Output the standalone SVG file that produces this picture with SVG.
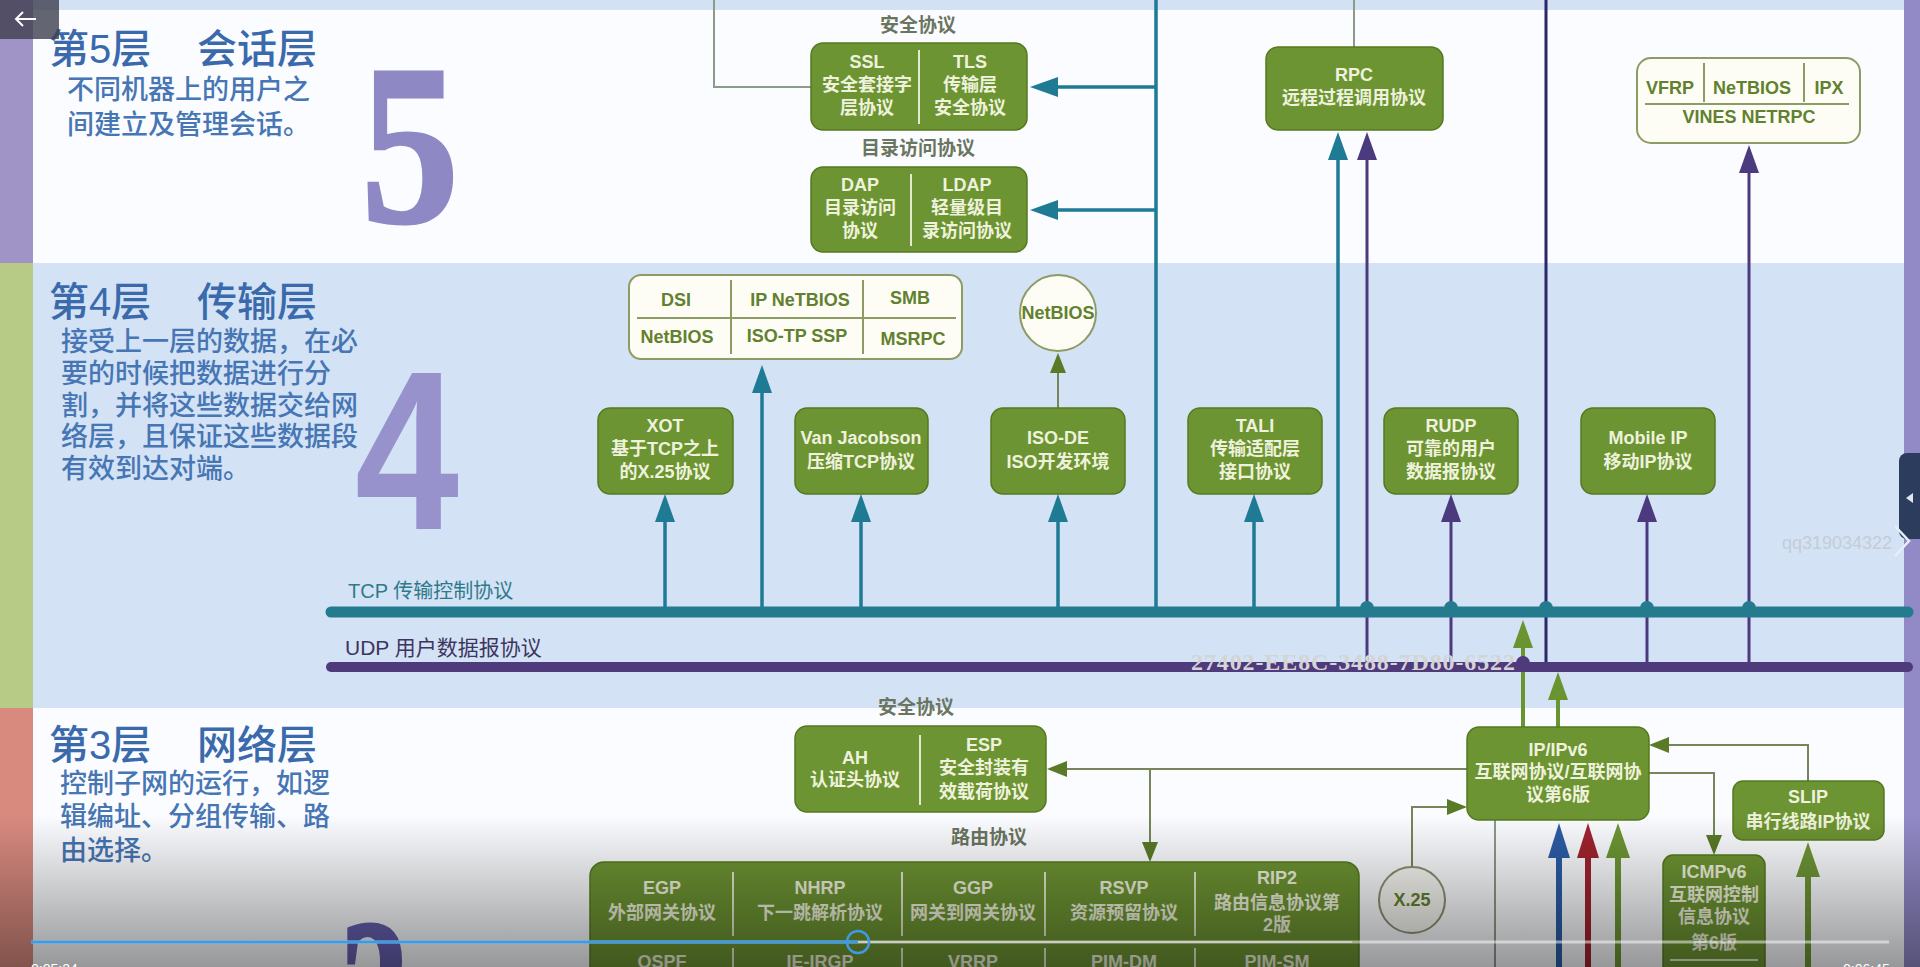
<svg xmlns="http://www.w3.org/2000/svg" width="1920" height="967" viewBox="0 0 1920 967">
<defs>
<style>
.t{font-family:"Liberation Sans","Noto Sans CJK SC",sans-serif}
.title{font-family:"Liberation Sans","Noto Sans CJK SC",sans-serif;font-size:40px;font-weight:500;fill:#3a6aab}
.desc{font-family:"Liberation Sans","Noto Sans CJK SC",sans-serif;font-size:27px;font-weight:500;fill:#4676b4}
.node{fill:#6d9432;stroke:#55791f;stroke-width:1.5}
.nt{font-family:"Liberation Sans","Noto Sans CJK SC",sans-serif;font-size:18px;font-weight:bold;fill:#eef2dc;text-anchor:middle}
.wbox{fill:#fdfdf6;stroke:#8d9c64;stroke-width:2}
.wt{font-family:"Liberation Sans","Noto Sans CJK SC",sans-serif;font-size:18px;font-weight:bold;fill:#62812e;text-anchor:middle}
.lbl{font-family:"Liberation Sans","Noto Sans CJK SC",sans-serif;font-size:19px;font-weight:bold;fill:#6a7560;text-anchor:middle}
.dl{stroke:#e2e9cc;stroke-width:2}
.dw{stroke:#8d9c64;stroke-width:2}
.teal{stroke:#1f7a94;stroke-width:3.5;fill:none}
.purple{stroke:#4b3b7e;stroke-width:3;fill:none}
.navy{stroke:#2d2766;stroke-width:3;fill:none}
.gray{stroke:#8c9a8a;stroke-width:2;fill:none}
.olive{stroke:#76865a;stroke-width:2;fill:none}
.grn{stroke:#6a9430;stroke-width:4;fill:none}
.big{stroke-width:6;fill:none}
.bigserif{font-family:"Liberation Serif",serif;font-weight:bold;font-size:228px;text-anchor:middle;stroke-width:3}
.bigsans{font-family:"Liberation Sans",sans-serif;font-weight:bold;font-size:226px;text-anchor:middle}
</style>
<marker id="mTeal" markerUnits="userSpaceOnUse" markerWidth="28" markerHeight="20" refX="0" refY="10" orient="auto"><path d="M0,0 L28,10 L0,20 z" fill="#1f7a94"/></marker>
<marker id="mPurple" markerUnits="userSpaceOnUse" markerWidth="28" markerHeight="20" refX="0" refY="10" orient="auto"><path d="M0,0 L28,10 L0,20 z" fill="#4b3b7e"/></marker>
<marker id="mOlive" markerUnits="userSpaceOnUse" markerWidth="20" markerHeight="16" refX="0" refY="8" orient="auto"><path d="M0,0 L20,8 L0,16 z" fill="#5a7a26"/></marker>
<marker id="mGreen" markerUnits="userSpaceOnUse" markerWidth="28" markerHeight="20" refX="0" refY="10" orient="auto"><path d="M0,0 L28,10 L0,20 z" fill="#6a9430"/></marker>
<marker id="mBlue" markerUnits="userSpaceOnUse" markerWidth="35" markerHeight="22" refX="0" refY="11" orient="auto"><path d="M0,0 L35,11 L0,22 z" fill="#2b5da6"/></marker>
<marker id="mRed" markerUnits="userSpaceOnUse" markerWidth="35" markerHeight="22" refX="0" refY="11" orient="auto"><path d="M0,0 L35,11 L0,22 z" fill="#a0232f"/></marker>
<marker id="mGreenB" markerUnits="userSpaceOnUse" markerWidth="35" markerHeight="24" refX="0" refY="12" orient="auto"><path d="M0,0 L35,12 L0,24 z" fill="#6c9634"/></marker>
<linearGradient id="shade" x1="0" y1="0" x2="0" y2="1">
<stop offset="0" stop-color="#000" stop-opacity="0"/>
<stop offset="1" stop-color="#000" stop-opacity="0.4"/>
</linearGradient>
</defs>

<g id="background">
<rect x="0" y="0" width="1920" height="967" fill="#fbfcff"/>
<rect x="0" y="0" width="1920" height="10" fill="#d2e1f4"/>
<rect x="0" y="263" width="1920" height="445" fill="#d3e2f5"/>
<rect x="0" y="0" width="33" height="263" fill="#a093c6"/>
<rect x="0" y="263" width="33" height="445" fill="#b8cb86"/>
<rect x="0" y="708" width="33" height="259" fill="#d88a7f"/>
<rect x="1904" y="0" width="16" height="967" fill="#918ac7"/>
</g>

<g id="layer5-title">
<text class="title" y="63"><tspan x="49">第5层</tspan><tspan x="197">会话层</tspan></text>
<text class="desc" x="67" y="99">不同机器上的用户之</text>
<text class="desc" x="67" y="134">间建立及管理会话。</text>
<text class="bigserif" x="410" y="222" fill="#8e88c4" stroke="#8e88c4" textLength="98" lengthAdjust="spacingAndGlyphs">5</text>
</g>
<g id="layer4-title">
<text class="title" y="316"><tspan x="49">第4层</tspan><tspan x="197">传输层</tspan></text>
<text class="desc" x="61" y="351">接受上一层的数据，在必</text>
<text class="desc" x="61" y="383">要的时候把数据进行分</text>
<text class="desc" x="61" y="415">割，并将这些数据交给网</text>
<text class="desc" x="61" y="446">络层，且保证这些数据段</text>
<text class="desc" x="61" y="478">有效到达对端。</text>
<text class="bigsans" x="407" y="529" fill="#9791cc" textLength="104" lengthAdjust="spacingAndGlyphs">4</text>
</g>
<g id="layer3-title">
<text class="title" y="759"><tspan x="49">第3层</tspan><tspan x="197">网络层</tspan></text>
<text class="desc" x="60" y="793">控制子网的运行，如逻</text>
<text class="desc" x="60" y="826">辑编址、分组传输、路</text>
<text class="desc" x="60" y="860">由选择。</text>
<text class="bigserif" x="375" y="1076" fill="#6660b0" stroke="#6660b0" textLength="70" lengthAdjust="spacingAndGlyphs">3</text>
</g>

<g id="connectors">
<path class="gray" d="M714,0 V87 H811"/>
<path class="gray" d="M1354,0 V47"/>
<path class="teal" d="M1156,0 V612"/>
<path class="teal" d="M1156,87 H1058" marker-end="url(#mTeal)"/>
<path class="teal" d="M1156,210 H1058" marker-end="url(#mTeal)"/>
<path class="teal" d="M762,612 V393" marker-end="url(#mTeal)"/>
<path class="teal" d="M665,612 V522" marker-end="url(#mTeal)"/>
<path class="teal" d="M861,612 V522" marker-end="url(#mTeal)"/>
<path class="teal" d="M1058,612 V522" marker-end="url(#mTeal)"/>
<path class="teal" d="M1254,612 V522" marker-end="url(#mTeal)"/>
<path class="teal" d="M1338,612 V160" marker-end="url(#mTeal)"/>
<path class="purple" d="M1367,667 V160" marker-end="url(#mPurple)"/>
<path class="purple" d="M1451,667 V522" marker-end="url(#mPurple)"/>
<path class="purple" d="M1647,667 V522" marker-end="url(#mPurple)"/>
<path class="purple" d="M1749,667 V173" marker-end="url(#mPurple)"/>
<path class="navy" d="M1546,0 V667"/>
<path class="olive" d="M1058,408 V373" marker-end="url(#mOlive)"/>
<path class="grn" d="M1523,727 V648" marker-end="url(#mGreen)"/>
<path class="grn" d="M1558,727 V700" marker-end="url(#mGreen)"/>
<path d="M331,612 H1908" stroke="#247b8e" stroke-width="11" stroke-linecap="round"/>
<path d="M331,667 H1908" stroke="#4f3a7c" stroke-width="10" stroke-linecap="round"/>
<g fill="#247b8e">
<circle cx="1367" cy="608" r="7"/><circle cx="1451" cy="608" r="7"/><circle cx="1546" cy="608" r="7"/><circle cx="1647" cy="608" r="7"/><circle cx="1749" cy="608" r="7"/>
</g>
<circle cx="1523" cy="663" r="7" fill="#4f3a7c"/>
<path class="olive" d="M1467,769 H1067" marker-end="url(#mOlive)"/>
<path class="olive" d="M1150,769 V842" marker-end="url(#mOlive)"/>
<path class="olive" d="M1412,867 V807 H1447" marker-end="url(#mOlive)"/>
<path class="olive" d="M1808,781 V745 H1669" marker-end="url(#mOlive)"/>
<path class="olive" d="M1649,773 H1714 V835" marker-end="url(#mOlive)"/>
<path class="gray" d="M1495,820 V967"/>
<path class="big" stroke="#2b5da6" d="M1559,967 V858" marker-end="url(#mBlue)"/>
<path class="big" stroke="#a0232f" d="M1588,967 V858" marker-end="url(#mRed)"/>
<path class="big" stroke="#6c9634" d="M1618,967 V858" marker-end="url(#mGreenB)"/>
<path class="big" stroke="#6c9634" d="M1808,967 V877" marker-end="url(#mGreenB)"/>
</g>

<g id="bus-labels">
<text class="t" x="348" y="598" font-size="20" fill="#2f7a8a">TCP 传输控制协议</text>
<text class="t" x="345" y="655" font-size="21" fill="#3d3560">UDP 用户数据报协议</text>
</g>

<g id="label-sec5"><text class="lbl" x="918" y="32">安全协议</text></g>
<g id="ssl-tls">
<rect class="node" x="811" y="43" width="216" height="87" rx="12"/>
<line class="dl" x1="919" y1="50" x2="919" y2="124"/>
<text class="nt" x="867" y="68">SSL</text><text class="nt" x="867" y="91">安全套接字</text><text class="nt" x="867" y="114">层协议</text>
<text class="nt" x="970" y="68">TLS</text><text class="nt" x="970" y="91">传输层</text><text class="nt" x="970" y="114">安全协议</text>
</g>
<g id="label-dir"><text class="lbl" x="918" y="155">目录访问协议</text></g>
<g id="dap-ldap">
<rect class="node" x="811" y="167" width="216" height="85" rx="12"/>
<line class="dl" x1="911" y1="174" x2="911" y2="246"/>
<text class="nt" x="860" y="191">DAP</text><text class="nt" x="860" y="214">目录访问</text><text class="nt" x="860" y="237">协议</text>
<text class="nt" x="967" y="191">LDAP</text><text class="nt" x="967" y="214">轻量级目</text><text class="nt" x="967" y="237">录访问协议</text>
</g>
<g id="rpc">
<rect class="node" x="1266" y="47" width="177" height="83" rx="12"/>
<text class="nt" x="1354" y="81">RPC</text><text class="nt" x="1354" y="104">远程过程调用协议</text>
</g>
<g id="vines">
<rect class="wbox" x="1637" y="58" width="223" height="85" rx="14"/>
<line class="dw" x1="1704" y1="63" x2="1704" y2="102"/>
<line class="dw" x1="1804" y1="63" x2="1804" y2="102"/>
<line class="dw" x1="1645" y1="104" x2="1849" y2="104"/>
<text class="wt" x="1670" y="94">VFRP</text><text class="wt" x="1752" y="94">NeTBIOS</text><text class="wt" x="1829" y="94">IPX</text>
<text class="wt" x="1749" y="123">VINES NETRPC</text>
</g>

<g id="dsi-box">
<rect class="wbox" x="629" y="275" width="333" height="84" rx="12"/>
<line class="dw" x1="637" y1="318" x2="956" y2="318"/>
<line class="dw" x1="731" y1="280" x2="731" y2="354"/>
<line class="dw" x1="863" y1="280" x2="863" y2="354"/>
<text class="wt" x="676" y="306">DSI</text><text class="wt" x="800" y="306">IP NeTBIOS</text><text class="wt" x="910" y="304">SMB</text>
<text class="wt" x="677" y="343">NetBIOS</text><text class="wt" x="797" y="342">ISO-TP SSP</text><text class="wt" x="913" y="345">MSRPC</text>
</g>
<g id="netbios">
<circle cx="1058" cy="313" r="38" fill="#fdfdf6" stroke="#8d9c64" stroke-width="2"/>
<text class="wt" x="1058" y="319">NetBIOS</text>
</g>
<g id="xot">
<rect class="node" x="598" y="408" width="135" height="86" rx="12"/>
<text class="nt" x="665" y="432">XOT</text><text class="nt" x="665" y="455">基于TCP之上</text><text class="nt" x="665" y="478">的X.25协议</text>
</g>
<g id="vanjacobson">
<rect class="node" x="795" y="408" width="133" height="86" rx="12"/>
<text class="nt" x="861" y="444">Van Jacobson</text><text class="nt" x="861" y="468">压缩TCP协议</text>
</g>
<g id="isode">
<rect class="node" x="991" y="408" width="134" height="86" rx="12"/>
<text class="nt" x="1058" y="444">ISO-DE</text><text class="nt" x="1058" y="468">ISO开发环境</text>
</g>
<g id="tali">
<rect class="node" x="1188" y="408" width="134" height="86" rx="12"/>
<text class="nt" x="1255" y="432">TALI</text><text class="nt" x="1255" y="455">传输适配层</text><text class="nt" x="1255" y="478">接口协议</text>
</g>
<g id="rudp">
<rect class="node" x="1384" y="408" width="134" height="86" rx="12"/>
<text class="nt" x="1451" y="432">RUDP</text><text class="nt" x="1451" y="455">可靠的用户</text><text class="nt" x="1451" y="478">数据报协议</text>
</g>
<g id="mobileip">
<rect class="node" x="1581" y="408" width="134" height="86" rx="12"/>
<text class="nt" x="1648" y="444">Mobile IP</text><text class="nt" x="1648" y="468">移动IP协议</text>
</g>

<g id="label-sec3"><text class="lbl" x="916" y="714">安全协议</text></g>
<g id="ah-esp">
<rect class="node" x="795" y="726" width="251" height="86" rx="12"/>
<line class="dl" x1="920" y1="735" x2="920" y2="805"/>
<text class="nt" x="855" y="764">AH</text><text class="nt" x="855" y="786">认证头协议</text>
<text class="nt" x="984" y="751">ESP</text><text class="nt" x="984" y="774">安全封装有</text><text class="nt" x="984" y="798">效载荷协议</text>
</g>
<g id="label-route"><text class="lbl" x="989" y="844">路由协议</text></g>
<g id="routing">
<rect class="node" x="590" y="862" width="769" height="140" rx="14"/>
<g class="dl">
<line x1="733" y1="872" x2="733" y2="936"/><line x1="902" y1="872" x2="902" y2="936"/><line x1="1045" y1="872" x2="1045" y2="936"/><line x1="1195" y1="872" x2="1195" y2="936"/>
<line x1="600" y1="942" x2="1352" y2="942"/>
<line x1="733" y1="948" x2="733" y2="967"/><line x1="902" y1="948" x2="902" y2="967"/><line x1="1045" y1="948" x2="1045" y2="967"/><line x1="1195" y1="948" x2="1195" y2="967"/>
</g>
<text class="nt" x="662" y="894">EGP</text><text class="nt" x="662" y="919">外部网关协议</text>
<text class="nt" x="820" y="894">NHRP</text><text class="nt" x="820" y="919">下一跳解析协议</text>
<text class="nt" x="973" y="894">GGP</text><text class="nt" x="973" y="919">网关到网关协议</text>
<text class="nt" x="1124" y="894">RSVP</text><text class="nt" x="1124" y="919">资源预留协议</text>
<text class="nt" x="1277" y="884">RIP2</text><text class="nt" x="1277" y="909">路由信息协议第</text><text class="nt" x="1277" y="931">2版</text>
<text class="nt" x="662" y="968">OSPF</text><text class="nt" x="820" y="968">IE-IRGP</text><text class="nt" x="973" y="968">VRRP</text><text class="nt" x="1124" y="968">PIM-DM</text><text class="nt" x="1277" y="968">PIM-SM</text>
</g>
<g id="ip">
<rect class="node" x="1467" y="727" width="182" height="93" rx="12"/>
<text class="nt" x="1558" y="756">IP/IPv6</text><text class="nt" x="1558" y="778">互联网协议/互联网协</text><text class="nt" x="1558" y="801">议第6版</text>
</g>
<g id="slip">
<rect class="node" x="1733" y="781" width="151" height="59" rx="10"/>
<text class="nt" x="1808" y="803">SLIP</text><text class="nt" x="1808" y="828">串行线路IP协议</text>
</g>
<g id="icmpv6">
<rect class="node" x="1663" y="855" width="102" height="140" rx="10"/>
<text class="nt" x="1714" y="878">ICMPv6</text><text class="nt" x="1714" y="901">互联网控制</text><text class="nt" x="1714" y="923">信息协议</text><text class="nt" x="1714" y="949">第6版</text>
<line class="dl" x1="1670" y1="960" x2="1758" y2="960"/>
</g>
<g id="x25">
<circle cx="1412" cy="900" r="33" fill="#f6f6f2" stroke="#8a9070" stroke-width="2"/>
<text class="wt" x="1412" y="906">X.25</text>
</g>

<g id="watermarks">
<text x="1191" y="670" font-family="Liberation Serif, serif" font-weight="bold" font-size="24" fill="#d4d4d4" textLength="324">27402-EE8C-3488-7D80-6522</text>
<text class="t" x="1782" y="549" font-size="18" fill="#c4ccd8">qq319034322</text>
</g>

<g id="player">
<rect x="0" y="815" width="1920" height="152" fill="url(#shade)"/>
<rect x="0" y="0" width="59" height="39" fill="#3f3f4f" opacity="0.8"/>
<path d="M36,19 H16 M23,12 L16,19 L23,26" stroke="#fff" stroke-width="2" fill="none"/>
<rect x="1899" y="453" width="30" height="86" rx="8" fill="#2c3c5c"/>
<path d="M1906,498 L1913,493 L1913,503 z" fill="#dfe6ef"/>
<polyline points="1895,526 1909,541 1895,556" stroke="#e8eef5" stroke-width="2.5" fill="none"/>
<line x1="31" y1="942" x2="1889" y2="942" stroke="#ffffff" stroke-opacity="0.5" stroke-width="3"/>
<line x1="31" y1="942" x2="858" y2="942" stroke="#3d9be5" stroke-width="3"/>
<circle cx="858" cy="942" r="11" fill="none" stroke="#3d9be5" stroke-width="2.5"/>
<text class="t" x="31" y="974" font-size="14" fill="#ffffff">0:05:24</text>
<text class="t" x="1843" y="974" font-size="14" fill="#ffffff">0:06:45</text>
</g>
</svg>
